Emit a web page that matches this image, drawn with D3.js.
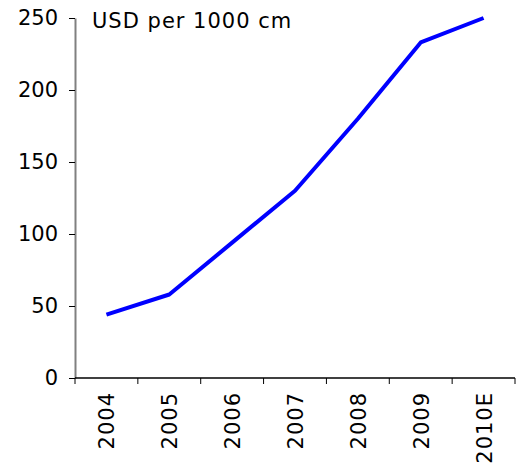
<!DOCTYPE html>
<html>
<head>
<meta charset="utf-8">
<script src="https://cdn.jsdelivr.net/npm/d3@7"></script>
<style>
  body { margin: 0; background: #fff; }
  text { font-family: "DejaVu Sans", Verdana, sans-serif; fill: #000; }
</style>
</head>
<body>
<div id="chart"></div>
<script>
var years = ['2004', '2005', '2006', '2007', '2008', '2009', '2010E'];
var prices = [44, 58, 94, 130, 180, 233, 250];
var yTicks = [0, 50, 100, 150, 200, 250];
var unitLabel = 'USD per 1000 cm';

var width = 525,
	height = 468;
var margin = {left: 75, right: 10, top: 18, bottom: 90};

var svg = d3.select('#chart').append('svg')
	.attr('width', width)
	.attr('height', height);

var x = d3.scaleBand()
	.domain(years)
	.range([margin.left, width - margin.right]);

var y = d3.scaleLinear()
	.domain([0, 250])
	.range([height - margin.bottom, margin.top]);

// y axis
var yAxis = svg.append('g')
	.attr('transform', 'translate(' + margin.left + ',0)')
	.call(d3.axisLeft(y).tickValues(yTicks).tickSize(6).tickSizeOuter(0).tickPadding(11));
yAxis.select('.domain').attr('stroke', '#808080').attr('stroke-width', 2);
yAxis.selectAll('.tick line').attr('stroke', '#000');
yAxis.selectAll('.tick text').style('font-size', '21px');

// x axis, ticks sit between categories
var base = y(0);
var xg = svg.append('g');
xg.append('line')
	.attr('x1', margin.left).attr('x2', x.range()[1])
	.attr('y1', base).attr('y2', base)
	.attr('stroke', '#000').attr('stroke-width', 1.5);
xg.selectAll('line.tick')
	.data(years.map(function(d){ return x(d); }).concat([x.range()[1]]))
	.enter().append('line')
	.attr('class', 'tick')
	.attr('x1', function(d){ return d; }).attr('x2', function(d){ return d; })
	.attr('y1', base).attr('y2', base + 6)
	.attr('stroke', '#000');
xg.selectAll('text')
	.data(years)
	.enter().append('text')
	.attr('transform', function(d){
		return 'translate(' + (x(d) + x.bandwidth() / 2 + 8) + ',' + (base + 14) + ') rotate(-90)';
	})
	.attr('text-anchor', 'end')
	.style('font-size', '21px')
	.style('letter-spacing', '1px')
	.text(function(d){ return d; });

// unit label
svg.append('text')
	.attr('x', 92)
	.attr('y', 28)
	.style('font-size', '21px')
	.style('letter-spacing', '1px')
	.text(unitLabel);

// the line
var line = d3.line()
	.x(function(d, i){ return x(years[i]) + x.bandwidth() / 2; })
	.y(function(d){ return y(d); });

svg.append('path')
	.datum(prices)
	.attr('d', line)
	.attr('fill', 'none')
	.attr('stroke', '#0000ff')
	.attr('stroke-width', 4)
	.attr('stroke-linejoin', 'round');
</script>
</body>
</html>
